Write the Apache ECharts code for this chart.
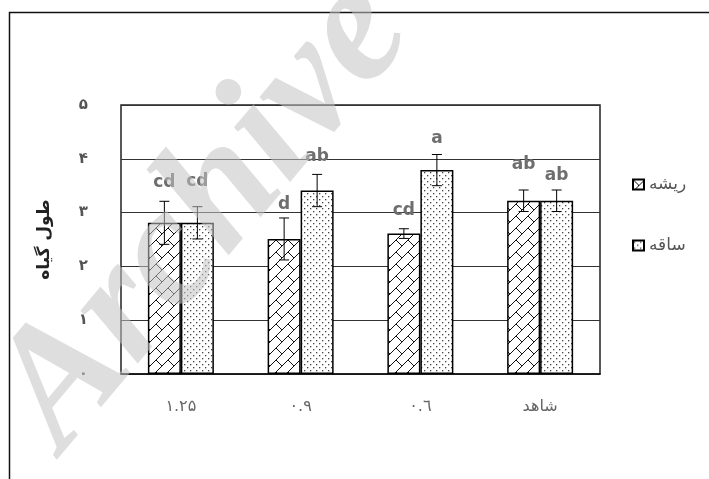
<!DOCTYPE html>
<html>
<head>
<meta charset="utf-8">
<script src="https://cdn.jsdelivr.net/npm/echarts@6/dist/echarts.min.js"></script>
<style>
  html, body { margin: 0; padding: 0; background: #fff; }
  #chart { width: 709px; height: 479px; }
</style>
</head>
<body>
<div id="chart"></div>
<script>
// Treatment levels (x axis) and y tick labels
const categories = ['۱.۲۵', '۰.۹', '۰.٦', 'شاهد'];
const yTickLabels = ['۰', '۱', '۲', '۳', '۴', '۵'];
const seriesNames = ['ریشه', 'ساقه'];

// Root (ریشه) means, standard errors and significance letters
const rootValues = [2.81, 2.51, 2.61, 3.22];
const rootErrors = [0.40, 0.39, 0.09, 0.20];
const rootLetters = ['cd', 'd', 'cd', 'ab'];

// Stem (ساقه) means, standard errors and significance letters
const stemValues = [2.81, 3.41, 3.79, 3.22];
const stemErrors = [0.30, 0.30, 0.29, 0.20];
const stemLetters = ['cd', 'ab', 'a', 'ab'];

// ---- rendering configuration ----
const BAR_W = 33;
// pixel lift of each letter above its error-bar cap
const rootLift = [19, 13, 18.5, 25.5];
const stemLift = [25.5, 18, 16, 14];

function brickPattern() {
  const s = 12;
  const c = document.createElement('canvas');
  c.width = s; c.height = s;
  const g = c.getContext('2d');
  g.fillStyle = '#fff';
  g.fillRect(0, 0, s, s);
  g.strokeStyle = '#111';
  g.lineWidth = 1;
  g.beginPath();
  g.moveTo(-1, s + 1); g.lineTo(s + 1, -1);
  g.moveTo(-1, 1); g.lineTo(1, -1);
  g.moveTo(s - 1, s + 1); g.lineTo(s + 1, s - 1);
  g.moveTo(0, 0); g.lineTo(s / 2, s / 2);
  g.stroke();
  return c;
}

function dotPattern() {
  const s = 6;
  const c = document.createElement('canvas');
  c.width = s; c.height = s;
  const g = c.getContext('2d');
  g.fillStyle = '#fff';
  g.fillRect(0, 0, s, s);
  g.fillStyle = '#444';
  g.fillRect(1, 1, 1.3, 1.3);
  g.fillRect(4, 4, 1.3, 1.3);
  return c;
}

const rootFill = { image: brickPattern(), repeat: 'repeat' };
const stemFill = { image: dotPattern(), repeat: 'repeat' };

function errorSeries(values, errors, letters, lifts, side) {
  return {
    type: 'custom',
    z: 5,
    silent: true,
    data: values.map((v, i) => [i, v, errors[i], letters[i], lifts[i]]),
    encode: { x: 0, y: 1 },
    renderItem(params, api) {
      const i = api.value(0);
      const v = api.value(1);
      const e = api.value(2);
      const top = api.coord([i, v + e]);
      const bot = api.coord([i, v - e]);
      const x = top[0] + side * BAR_W / 2;
      const cap = 5;
      const ls = { stroke: '#000', lineWidth: 1 };
      return {
        type: 'group',
        children: [
          { type: 'line', shape: { x1: x, y1: top[1], x2: x, y2: bot[1] }, style: ls },
          { type: 'line', shape: { x1: x - cap, y1: top[1], x2: x + cap, y2: top[1] }, style: ls },
          { type: 'line', shape: { x1: x - cap, y1: bot[1], x2: x + cap, y2: bot[1] }, style: ls },
          {
            type: 'text',
            style: {
              text: api.value(3),
              x: x,
              y: top[1] - api.value(4),
              align: 'center',
              verticalAlign: 'middle',
              fill: '#6e6e6e',
              font: 'bold 17px "DejaVu Sans"'
            }
          }
        ]
      };
    }
  };
}

const chart = echarts.init(document.getElementById('chart'), null, { renderer: 'canvas' });

chart.setOption({
  animation: false,
  backgroundColor: '#fff',
  grid: {
    left: 121, right: 109, top: 105, bottom: 105,
    show: true, borderColor: '#222', borderWidth: 1.5, backgroundColor: 'transparent'
  },
  legend: {
    orient: 'vertical',
    left: 627,
    top: 171,
    itemWidth: 11,
    itemHeight: 10,
    itemGap: 44,
    icon: 'rect',
    data: seriesNames,
    textStyle: { fontFamily: 'DejaVu Sans', fontSize: 17, color: '#555' }
  },
  xAxis: {
    type: 'category',
    data: categories,
    axisTick: { show: false },
    axisLine: { lineStyle: { color: '#111', width: 1.5 } },
    axisLabel: { margin: 25, fontFamily: 'DejaVu Sans', fontSize: 16, color: '#666' }
  },
  yAxis: {
    type: 'value',
    min: 0, max: 5, interval: 1,
    name: 'طول گیاه',
    nameLocation: 'middle',
    nameRotate: 90,
    nameGap: 68,
    nameTextStyle: { fontFamily: 'DejaVu Sans', fontSize: 17, fontWeight: 'bold', color: '#222' },
    axisLine: { show: false },
    axisTick: { show: false },
    splitLine: { lineStyle: { color: '#333', width: 1 } },
    axisLabel: {
      margin: 33,
      fontFamily: 'DejaVu Sans',
      fontSize: 15,
      fontWeight: 'bold',
      color: '#555',
      formatter: v => yTickLabels[Math.round(v)]
    }
  },
  series: [
    {
      name: seriesNames[0],
      type: 'bar',
      barWidth: BAR_W,
      barGap: '0%',
      data: rootValues,
      itemStyle: { color: rootFill, borderColor: '#000', borderWidth: 1.5 }
    },
    {
      name: seriesNames[1],
      type: 'bar',
      barWidth: BAR_W,
      barGap: '0%',
      data: stemValues,
      itemStyle: { color: stemFill, borderColor: '#000', borderWidth: 1.5 }
    },
    errorSeries(rootValues, rootErrors, rootLetters, rootLift, -1),
    errorSeries(stemValues, stemErrors, stemLetters, stemLift, 1)
  ],
  graphic: [
    {
      type: 'rect',
      silent: true,
      z: 50,
      shape: { x: 9.5, y: 12.5, width: 800, height: 600 },
      style: { fill: 'none', stroke: '#111', lineWidth: 1.5 }
    },
    {
      type: 'text',
      silent: true,
      z: 100,
      x: 205,
      y: 215,
      rotation: 50 * Math.PI / 180,
      style: {
        text: 'Archive',
        font: 'italic bold 170px "Liberation Serif"',
        fill: 'rgba(195,195,195,0.55)',
        align: 'center',
        verticalAlign: 'middle'
      }
    }
  ]
});
</script>
</body>
</html>
